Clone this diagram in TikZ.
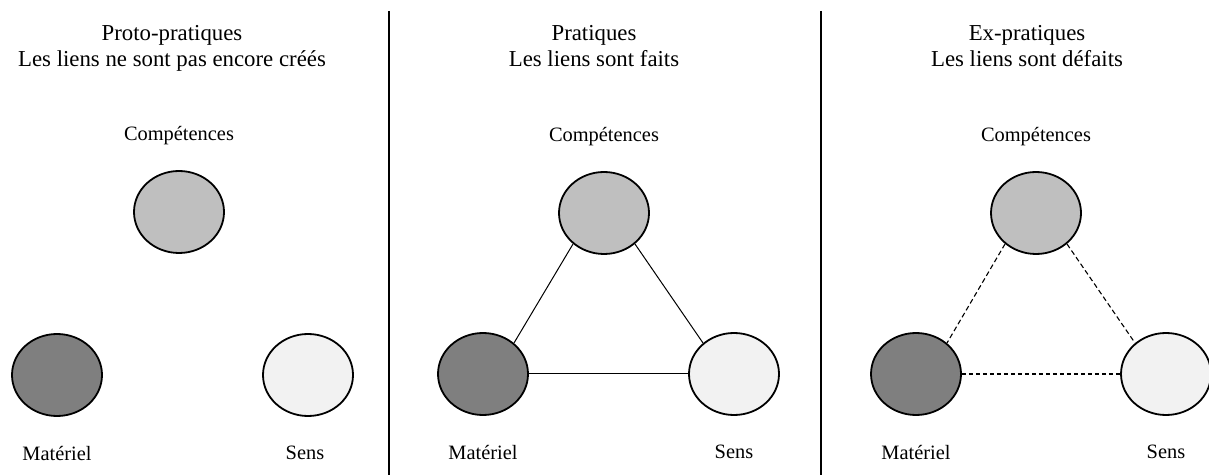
\documentclass[tikz,border=0pt]{standalone}
\usepackage{fontspec}
\setmainfont{Liberation Serif}
\usetikzlibrary{positioning,shapes.geometric}
\definecolor{compgray}{RGB}{191,191,191}
\definecolor{matgray}{RGB}{127,127,127}
\definecolor{sensgray}{RGB}{242,242,242}

\begin{document}
\begin{tikzpicture}[
    x=0.5pt, y=0.5pt,
    font=\fontsize{10.2}{13}\selectfont,
    pole/.style={draw, ellipse, line width=0.9pt, minimum width=45pt, minimum height=41pt, inner sep=0pt},
    lbl/.style={inner sep=0pt},
    ttl/.style={align=center, inner sep=0pt, anchor=north, font=\fontsize{11.4}{13}\selectfont},
    link/.style={line width=0.5pt},
    oldlink/.style={line width=0.55pt, dash pattern=on 2.5pt off 1.5pt},
    oldbase/.style={line width=1pt, dash pattern=on 2pt off 1.5pt},
    sep/.style={line width=0.6pt}
  ]
    \useasboundingbox (0,0) rectangle (1209,-475);

    % --- Proto-pratiques ---
    \node[ttl] (ttl1) at (172,-25) {Proto-pratiques\\Les liens ne sont pas encore créés};
    \node[pole, fill=compgray]  (comp1) at (179,-212) {};
    \node[pole, fill=matgray]   (mat1)  at (57,-375)  {};
    \node[pole, fill=sensgray]  (sens1) at (308,-375) {};
    \node[lbl, above=12.5pt of comp1] (lcomp1) {Compétences};
    \node[lbl, below=14.5pt of mat1]  (lmat1)  {Matériel};
    \node[lbl, below=14.5pt of sens1, xshift=-1.5pt] (lsens1) {Sens};

    % --- Pratiques ---
    \node[ttl] (ttl2) at (594,-25) {Pratiques\\Les liens sont faits};
    \node[pole, fill=compgray]  (comp2) at (604,-213) {};
    \node[pole, fill=matgray]   (mat2)  at (483,-374) {};
    \node[pole, fill=sensgray]  (sens2) at (734,-374) {};
    \node[lbl, above=12.5pt of comp2] (lcomp2) {Compétences};
    \node[lbl, below=14.5pt of mat2]  (lmat2)  {Matériel};
    \node[lbl, below=14.5pt of sens2] (lsens2) {Sens};
    \draw[link] (comp2.225) -- (mat2.45);
    \draw[link] (comp2.-45) -- (sens2.135);
    \draw[link] (mat2.east) -- (sens2.west);

    % --- Ex-pratiques ---
    \node[ttl] (ttl3) at (1027,-25) {Ex-pratiques\\Les liens sont défaits};
    \node[pole, fill=compgray]  (comp3) at (1036,-213) {};
    \node[pole, fill=matgray]   (mat3)  at (916,-374)  {};
    \node[pole, fill=sensgray]  (sens3) at (1166,-374) {};
    \node[lbl, above=12.5pt of comp3] (lcomp3) {Compétences};
    \node[lbl, below=14.5pt of mat3]  (lmat3)  {Matériel};
    \node[lbl, below=14.5pt of sens3] (lsens3) {Sens};
    \draw[oldlink] (comp3.225) -- (mat3.45);
    \draw[oldlink] (comp3.-45) -- (sens3.135);
    \draw[oldbase] (mat3.east) -- (sens3.west);

    % separateurs
    \coordinate (sepAtop) at (389,-11);
    \coordinate (sepAbot) at (389,-475);
    \coordinate (sepBtop) at (821,-11);
    \coordinate (sepBbot) at (821,-475);
    \draw[sep] (sepAtop) -- (sepAbot);
    \draw[sep] (sepBtop) -- (sepBbot);
  \end{tikzpicture}
\end{document}
